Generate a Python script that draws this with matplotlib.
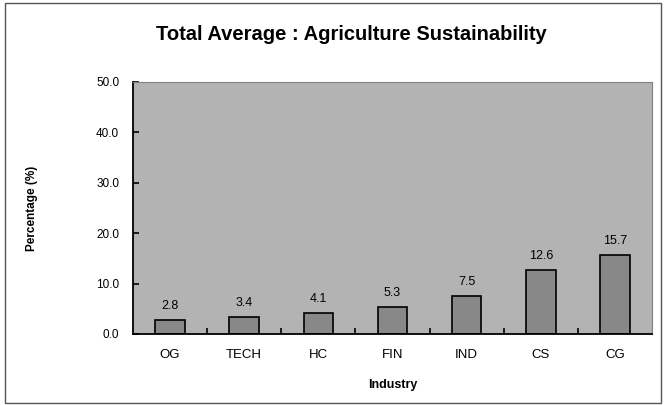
import matplotlib.pyplot as plt
from matplotlib.patches import Rectangle

industries = ["OG", "TECH", "HC", "FIN", "IND", "CS", "CG"]
averages = [2.8, 3.4, 4.1, 5.3, 7.5, 12.6, 15.7]
yticks = [0, 10, 20, 30, 40, 50]

plt.rcParams['font.family'] = ['Liberation Sans', 'DejaVu Sans']

fig = plt.figure(figsize=(6.66, 4.05), dpi=100)
ax = fig.add_axes([133 / 666, 1 - 334 / 405, (652 - 133) / 666, (334 - 82) / 405])

fig.patches.append(Rectangle((0.008, 0.006), 0.984, 0.986, transform=fig.transFigure,
                             fill=False, edgecolor="#555555", linewidth=1.0))

ax.set_facecolor("#b3b3b3")
x = range(len(industries))
bars = ax.bar(x, averages, width=0.4, color="#888888", edgecolor="black", linewidth=1.2)

for xi, v in zip(x, averages):
    ax.text(xi, v + 1.6, f"{v:.1f}", ha="center", va="bottom", fontsize=9)

ax.set_xlim(-0.5, len(industries) - 0.5)
ax.set_ylim(0, 50)
ax.set_yticks(yticks)
ax.set_yticklabels([f"{t:.1f}" for t in yticks], fontsize=8.5)
ax.set_xticks(list(x))
ax.set_xticklabels(industries, fontsize=9.5)
ax.set_xticks([i + 0.5 for i in range(len(industries) - 1)], minor=True)
ax.tick_params(axis="x", which="major", length=0, pad=11)
ax.tick_params(axis="x", which="minor", direction="in", length=4, width=1.2)
ax.tick_params(axis="y", direction="in", length=4, width=1.2, pad=10)

for side in ["left", "bottom"]:
    ax.spines[side].set_linewidth(1.3)
    ax.spines[side].set_color("black")
for side in ["top", "right"]:
    ax.spines[side].set_linewidth(0.8)
    ax.spines[side].set_color("#808080")

ax.set_ylabel("Percentage (%)", fontsize=8.5, fontweight="bold", labelpad=42)
ax.set_xlabel("Industry", fontsize=9, fontweight="bold", labelpad=13)
fig.text(351 / 666, 1 - 34 / 405, "Total Average : Agriculture Sustainability",
         ha="center", va="center", fontsize=14.5, fontweight="bold")

fig.savefig("out.png", dpi=100)
